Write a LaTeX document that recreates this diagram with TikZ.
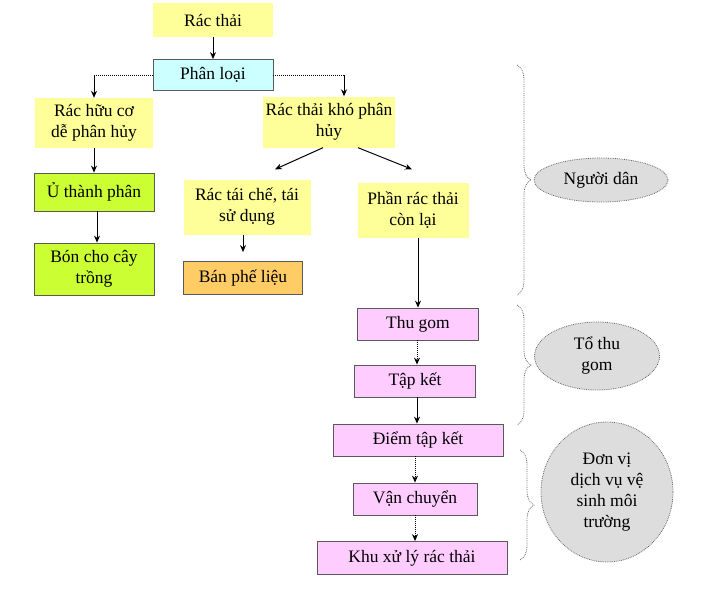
\documentclass[tikz,border=0pt]{standalone}
\usepackage{fontspec}
\setmainfont{Liberation Serif}
\usetikzlibrary{shapes.geometric,calc,decorations.pathreplacing,arrows.meta}
\definecolor{vang}{HTML}{FFFF99}
\definecolor{xanhnhat}{HTML}{CCFFFF}
\definecolor{xanhla}{HTML}{CCFF33}
\definecolor{cam}{HTML}{FFCC66}
\definecolor{hong}{HTML}{FFCCFF}
\definecolor{xam}{HTML}{DDDDDD}
\begin{document}
\begin{tikzpicture}[>={Stealth[length=7pt,width=6pt]}, x=1pt, y=-1pt,
	font=\fontsize{17.5}{21}\selectfont,
	hop/.style={rectangle, align=center, inner sep=2pt},
	vien/.style={hop, draw=black!65, line width=0.8pt},
	nhom/.style={ellipse, fill=xam, draw=black!60, densely dotted, line width=0.8pt, align=center, inner sep=0pt},
	ngoac/.style={decorate, decoration={brace, amplitude=14pt}, densely dotted, black!60, line width=0.8pt},
	mui/.style={->, line width=1pt}]
	
	% 1. Khung hinh
	\useasboundingbox (0,0) rectangle (706,595);
	
	% 2. Cac hop phan loai
	\node[hop, fill=vang, minimum width=120pt, minimum height=34pt] (rac) at (213,20) {Rác thải};
	\node[vien, fill=xanhnhat, minimum width=120pt, minimum height=31pt] (phanloai) at (213,75) {Phân loại};
	\node[hop, fill=vang, minimum width=118pt, minimum height=50pt] (huuco) at (94,123) {Rác hữu cơ\\dễ phân hủy};
	\node[hop, fill=vang, minimum width=132pt, minimum height=51pt] (khoph) at (329,122) {Rác thải khó phân\\hủy};
	\node[vien, fill=xanhla, minimum width=120pt, minimum height=38pt] (u) at (94,192) {Ủ thành phân};
	\node[vien, fill=xanhla, minimum width=120pt, minimum height=52pt] (bon) at (94,269) {Bón cho cây\\trồng};
	\node[hop, fill=vang, minimum width=127pt, minimum height=55pt] (taiche) at (247,207) {Rác tái chế, tái\\sử dụng};
	\node[vien, fill=cam, minimum width=119pt, minimum height=33pt] (banpl) at (243,278) {Bán phế liệu};
	\node[hop, fill=vang, minimum width=111pt, minimum height=55pt] (conlai) at (413,210) {Phần rác thải\\còn lại};
	
	% 3. Cac hop thu gom, van chuyen
	\node[vien, fill=hong, minimum width=121pt, minimum height=32pt] (thugom) at (418,324) {Thu gom};
	\node[vien, fill=hong, minimum width=121pt, minimum height=32pt] (tapket) at (415,381) {Tập kết};
	\node[vien, fill=hong, minimum width=170pt, minimum height=32pt] (diem) at (418,440) {Điểm tập kết};
	\node[vien, fill=hong, minimum width=124pt, minimum height=32pt] (vanch) at (415,499) {Vận chuyển};
	\node[vien, fill=hong, minimum width=190pt, minimum height=33pt] (khuxl) at (412,558) {Khu xử lý rác thải};
	
	% 4. Mui ten
	\draw[mui] (rac) -- (phanloai);
	\coordinate (gocT) at (huuco.north |- phanloai.west);
	\coordinate (gocP) at (khoph.north |- phanloai.east);
	\draw[densely dotted, line width=1pt] (phanloai.west) -- (gocT);
	\draw[densely dotted, line width=1pt] (phanloai.east) -- ([xshift=15pt]gocP);
	\draw[mui] (gocT) -- (huuco.north);
	\draw[mui] ([xshift=15pt]gocP) -- ([xshift=15pt]khoph.north);
	\draw[mui] ($(khoph.south)+(-6,0)$) -- ($(taiche.north)+(28,-10)$);
	\draw[mui] ($(khoph.south)+(29,0)$) -- ($(conlai.north)+(-1,-13)$);
	\draw[mui] (huuco) -- (u);
	\draw[mui] ([xshift=3pt]u.south) -- ([xshift=3pt]bon.north);
	\draw[mui, shorten >=9pt] (taiche.south -| banpl.north) -- (banpl.north);
	\draw[mui] (conlai.south -| thugom.north) -- (thugom.north);
	\draw[mui, densely dotted] ([xshift=-1pt]thugom.south) -- ([xshift=-1pt]thugom.south |- tapket.north);
	\draw[mui] ([xshift=2pt]tapket.south) -- ([xshift=2pt]tapket.south |- diem.north);
	\draw[mui, densely dotted] ([xshift=-3pt]diem.south) -- ([xshift=-3pt]diem.south |- vanch.north);
	\draw[mui, densely dotted] (vanch.south) -- (vanch.south |- khuxl.north);
	
	% 5. Ngoac va nhom doi tuong
	\draw[ngoac] (517,65) -- (517,295);
	\draw[ngoac] (517,305) -- (517,425);
	\draw[ngoac] (520,450) -- (520,560);
	\node[nhom, minimum width=134pt, minimum height=44pt] (dan) at (601,180) {Người dân};
	\node[nhom, minimum width=125pt, minimum height=68pt] (totg) at (597,356) {Tổ thu\\gom};
	\node[nhom, minimum width=132pt, minimum height=140pt] (donvi) at (607,492) {Đơn vị\\dịch vụ vệ\\sinh môi\\trường};
	
\end{tikzpicture}
\end{document}
